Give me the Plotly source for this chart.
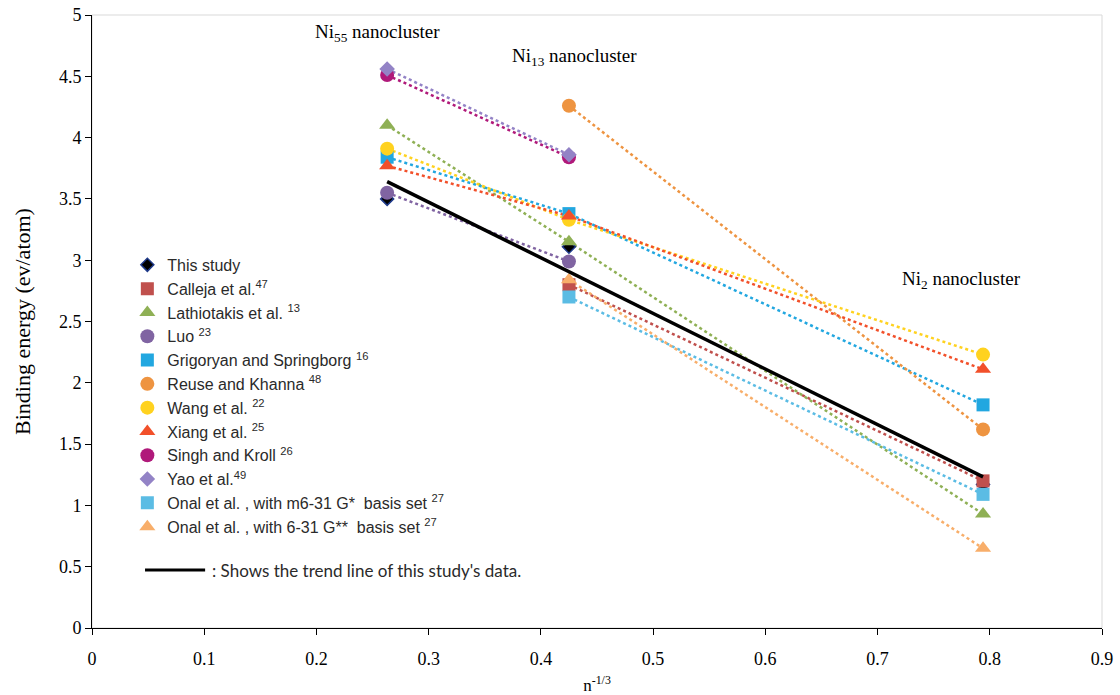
import plotly.graph_objects as go
import numpy as np

# x positions: n^(-1/3) for Ni55, Ni13, Ni2
x_vals = [0.263, 0.425, 0.794]

this_study = [3.50, 3.11, 1.17]
calleja = [None, 2.80, 1.20]
lathiotakis = [4.10, 3.15, 0.93]
luo = [3.55, 2.99, None]
grigoryan = [3.84, 3.38, 1.82]
reuse = [None, 4.26, 1.62]
wang = [3.91, 3.33, 2.23]
xiang = [3.77, 3.36, 2.11]
singh = [4.51, 3.84, None]
yao = [4.56, 3.86, None]
onal_m6 = [None, 2.70, 1.09]
onal_631 = [None, 2.84, 0.65]

series_names = [
    "This study",
    "Calleja et al.<sup>47</sup>",
    "Lathiotakis et al. <sup>13</sup>",
    "Luo <sup>23</sup>",
    "Grigoryan and Springborg <sup>16</sup>",
    "Reuse and Khanna <sup>48</sup>",
    "Wang et al. <sup>22</sup>",
    "Xiang et al. <sup>25</sup>",
    "Singh and Kroll <sup>26</sup>",
    "Yao et al.<sup>49</sup>",
    "Onal et al. , with m6-31 G*  basis set <sup>27</sup>",
    "Onal et al. , with 6-31 G**  basis set <sup>27</sup>",
]
series_values = [this_study, calleja, lathiotakis, luo, grigoryan, reuse,
                 wang, xiang, singh, yao, onal_m6, onal_631]
colors = ["#000000", "#C0504D", "#8FB055", "#8064A2", "#22A7E0", "#EE9441",
          "#FFD21F", "#F2502A", "#B0197A", "#9383C6", "#5BBCE4", "#F8AE6A"]
symbols = ["diamond", "square", "triangle-up", "circle", "square", "circle",
           "circle", "triangle-up", "circle", "diamond", "square", "triangle-up"]
sizes = [10, 13, 14, 14, 13, 14, 14, 14, 14, 12, 13, 14]

serif = "Liberation Serif"
sans = "Liberation Sans"

fig = go.Figure()

# dotted connecting lines (not in legend)
for i, (name, vals) in enumerate(zip(series_names, series_values)):
    if i == 0:
        continue
    fig.add_trace(go.Scatter(
        x=x_vals, y=vals, name=name, mode="lines",
        line=dict(color=colors[i], width=2.5, dash="dot"),
        showlegend=False, hoverinfo="skip",
    ))

# markers (in legend)
for i, (name, vals) in enumerate(zip(series_names, series_values)):
    is_study = i == 0
    fig.add_trace(go.Scatter(
        x=x_vals, y=vals, name=name, mode="markers",
        marker=dict(symbol=symbols[i], size=sizes[i], color=colors[i],
                    line=dict(width=1.5 if is_study else 0, color="#1F3A8A")),
    ))

# Linear trend line of this study's data
coef = np.polyfit(x_vals, this_study, 1)
trend_x = [x_vals[0], x_vals[-1]]
trend_y = list(np.polyval(coef, trend_x))
fig.add_trace(go.Scatter(
    x=trend_x, y=trend_y, mode="lines",
    name="Trend line (this study)",
    line=dict(color="black", width=3.5),
    showlegend=False,
))

ann_font = dict(family=serif, size=19, color="black")

fig.update_layout(
    width=1120, height=695,
    margin=dict(l=92, r=18, t=15, b=67, autoexpand=False),
    paper_bgcolor="white", plot_bgcolor="white",
    showlegend=True,
    legend=dict(
        x=0.035, y=0.62, xanchor="left", yanchor="top",
        bgcolor="rgba(0,0,0,0)", font=dict(family=sans, size=16, color="#2a2a2a"),
        tracegroupgap=0, itemwidth=30,
    ),
    xaxis=dict(
        range=[0, 0.9], dtick=0.1, tick0=0,
        showline=True, linecolor="black", linewidth=1,
        ticks="outside", ticklen=6, tickcolor="black",
        ticklabelstandoff=8,
        showgrid=False, zeroline=False,
        tickfont=dict(family=serif, size=18, color="black"),
        title=dict(text="n<sup>-1/3</sup>", font=dict(family=serif, size=17, color="black"),
                   standoff=14),
    ),
    yaxis=dict(
        range=[0, 5], dtick=0.5, tick0=0,
        showline=True, linecolor="black", linewidth=1,
        ticks="outside", ticklen=6, tickcolor="black",
        showgrid=False, zeroline=False,
        tickfont=dict(family=serif, size=18, color="black"),
        title=dict(text="Binding energy (ev/atom)", font=dict(family=serif, size=22, color="black"),
                   standoff=22),
    ),
    shapes=[
        dict(type="rect", xref="paper", yref="paper", x0=0, y0=0, x1=1, y1=1,
             line=dict(color="#D9D9D9", width=1), layer="below"),
        # legend key for the trend line
        dict(type="line", xref="paper", yref="paper", x0=0.0525, x1=0.112,
             y0=0.0946, y1=0.0946, line=dict(color="black", width=3)),
    ],
    annotations=[
        dict(x=0.263, y=4.85, xref="x", yref="y", text="Ni<sub>55</sub> nanocluster",
             showarrow=False, xanchor="center", font=ann_font, xshift=-10),
        dict(x=0.425, y=4.66, xref="x", yref="y", text="Ni<sub>13</sub> nanocluster",
             showarrow=False, xanchor="center", font=ann_font, xshift=6),
        dict(x=0.794, y=2.84, xref="x", yref="y", text="Ni<sub>2</sub> nanocluster",
             showarrow=False, xanchor="center", font=ann_font, xshift=-22),
        dict(x=0.117, y=0.0946, xref="paper", yref="paper", xanchor="left", yanchor="middle",
             text=": Shows the trend line of this study's data.", showarrow=False,
             font=dict(family="Lato", size=17, color="#2a2a2a")),
    ],
)

fig.write_html("out.html", config={"displayModeBar": False},
               post_script="document.body.style.margin='0';")
